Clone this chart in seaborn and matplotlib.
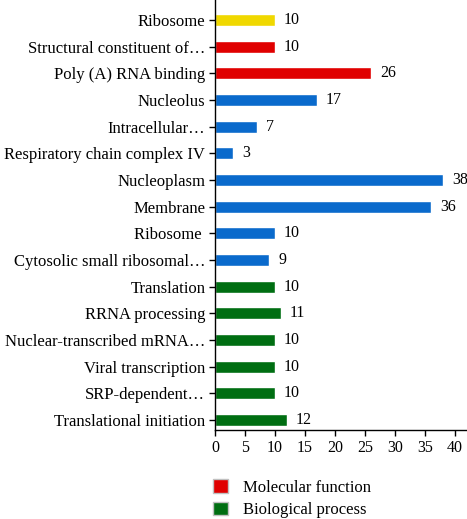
import matplotlib
matplotlib.use("Agg")
import matplotlib.pyplot as plt
import seaborn as sns
import pandas as pd
from matplotlib.patches import Patch

categories = [
    "Ribosome", "Structural constituent of…", "Poly (A) RNA binding", "Nucleolus",
    "Intracellular…", "Respiratory chain complex IV", "Nucleoplasm", "Membrane",
    "Ribosome ", "Cytosolic small ribosomal…", "Translation", "RRNA processing",
    "Nuclear-transcribed mRNA…", "Viral transcription", "SRP-dependent…",
    "Translational initiation",
]
values = [10, 10, 26, 17, 7, 3, 38, 36, 10, 9, 10, 11, 10, 10, 10, 12]
groups = ["KEGG", "MF", "MF", "CC", "CC", "CC", "CC", "CC", "CC", "CC",
          "BP", "BP", "BP", "BP", "BP", "BP"]
xticks = [0, 5, 10, 15, 20, 25, 30, 35, 40]

palette = {"KEGG": "#F0D800", "MF": "#E00000", "CC": "#0A6ACC", "BP": "#006E12"}

df = pd.DataFrame({"cat": categories, "val": values, "grp": groups})

sns.set_style("ticks")
plt.rcParams["font.family"] = ["Liberation Serif", "DejaVu Serif"]
plt.rcParams["text.color"] = "black"
plt.rcParams["xtick.labelcolor"] = "black"
plt.rcParams["ytick.labelcolor"] = "black"
plt.rcParams["xtick.color"] = "black"
plt.rcParams["ytick.color"] = "black"

fig = plt.figure(figsize=(4.67, 5.19), dpi=100)
ax = fig.add_axes([215 / 467, 89 / 519, 252 / 467, 430 / 519])

sns.barplot(data=df, y="cat", x="val", hue="grp", palette=palette,
            dodge=False, orient="h", width=0.44, legend=False, ax=ax,
            saturation=1)

ax.set_ylim(15.375, -0.75)
ax.set_xlim(0, 42)
ax.set_xticks(xticks)
ax.set_xticklabels([str(t) for t in xticks], fontsize=11.5, color="black")
ax.tick_params(axis="y", labelsize=12, length=4, width=1, color="black",
               labelcolor="black", pad=3)
ax.tick_params(axis="x", length=4, width=1, color="black", labelcolor="black", pad=3)
ax.set_xlabel("")
ax.set_ylabel("")
for s in ["top", "right"]:
    ax.spines[s].set_visible(False)
for s in ["left", "bottom"]:
    ax.spines[s].set_color("black")
    ax.spines[s].set_linewidth(1)

for i, v in enumerate(values):
    ax.annotate(str(v), xy=(v, i), xytext=(6.5, 0), textcoords="offset points",
                va="center", ha="left", fontsize=11.5, color="black")

handles = [Patch(facecolor=palette["MF"], edgecolor="#c0c0c0", label="Molecular function"),
           Patch(facecolor=palette["BP"], edgecolor="#c0c0c0", label="Biological process")]
fig.legend(handles=handles, loc="upper left", bbox_to_anchor=(208 / 467, 1 - 474 / 519),
           frameon=False, fontsize=12, handlelength=0.9, handleheight=0.9,
           handletextpad=0.9, labelspacing=0.35, borderaxespad=0, borderpad=0.3,
           labelcolor="black")

fig.savefig("out.png", dpi=100)
